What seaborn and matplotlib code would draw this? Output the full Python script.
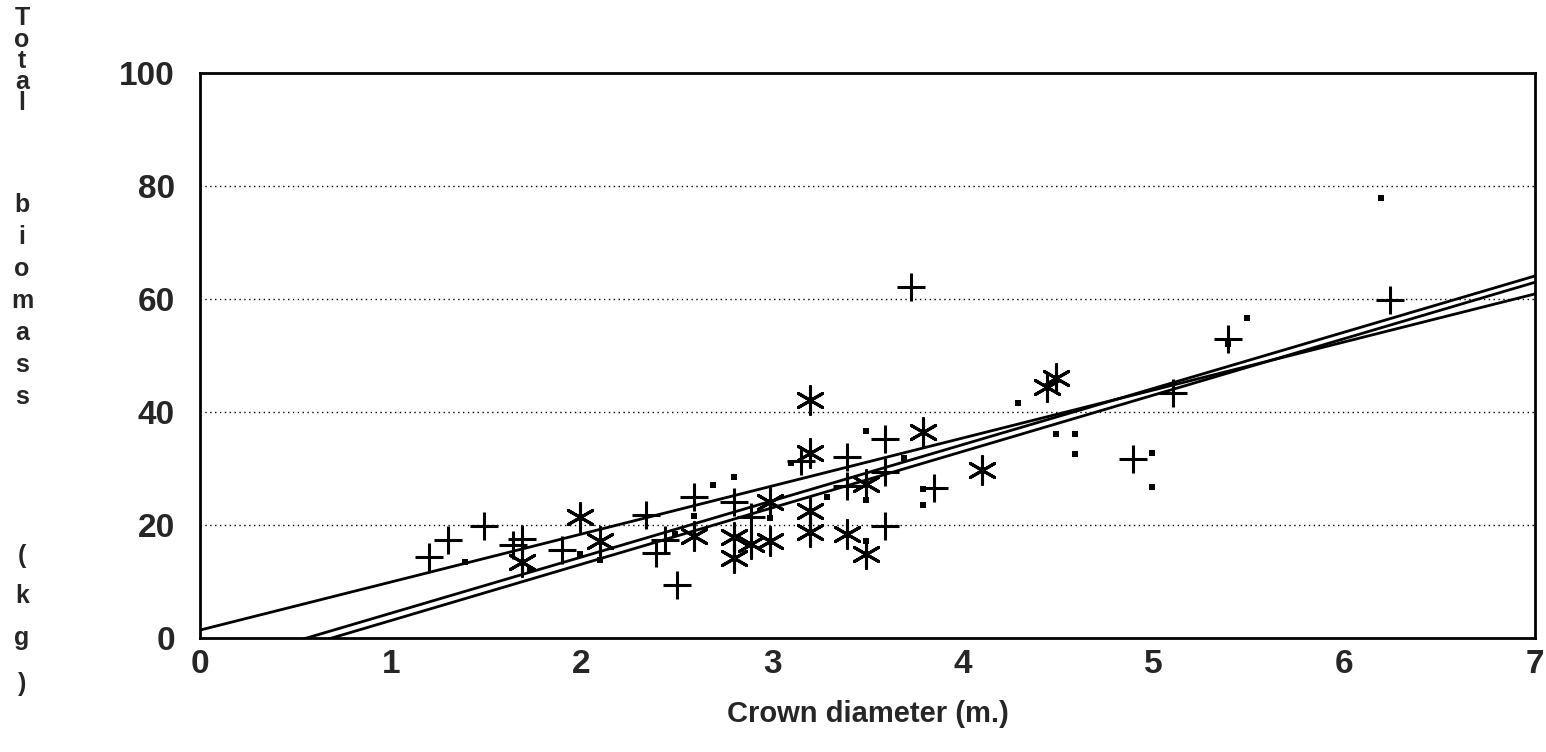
import matplotlib
matplotlib.use("Agg")
import matplotlib.pyplot as plt
import numpy as np
import pandas as pd
import seaborn as sns

# crown diameter (m.) / total biomass (kg), three sample groups
plus_x = [1.20, 1.30, 1.49, 1.64, 1.69, 1.90, 2.34, 2.39, 2.44, 2.50, 2.59, 2.80, 2.89,
          3.15, 3.39, 3.39, 3.59, 3.59, 3.59, 3.73, 3.85, 4.89, 5.10, 5.39, 6.24]
plus_y = [14.4, 17.3, 19.9, 16.5, 17.6, 15.5, 21.8, 15.0, 17.3, 9.3, 25.0, 24.1, 21.5,
          31.3, 32.1, 26.9, 35.3, 29.3, 19.9, 62.2, 26.5, 31.7, 43.3, 53.0, 59.9]
star_x = [1.69, 1.99, 2.10, 2.59, 2.80, 2.80, 2.89, 2.99, 2.99, 3.20, 3.20, 3.20, 3.20,
          3.39, 3.49, 3.49, 3.79, 4.10, 4.44, 4.49]
star_y = [13.5, 21.5, 17.2, 18.1, 17.8, 14.2, 16.7, 24.1, 17.1, 42.1, 32.8, 22.4, 18.8,
          18.4, 27.2, 14.9, 36.4, 29.7, 44.4, 46.1]
dot_x = [1.39, 1.73, 1.99, 2.10, 2.49, 2.59, 2.69, 2.80, 2.99, 3.10, 3.29, 3.49, 3.49,
         3.49, 3.69, 3.79, 3.79, 4.29, 4.49, 4.59, 4.59, 4.99, 4.99, 5.39, 5.49, 6.19]
dot_y = [13.4, 12.3, 14.9, 13.8, 18.4, 21.6, 27.0, 28.5, 21.2, 31.0, 25.0, 36.6, 24.5,
         17.2, 31.9, 26.4, 23.5, 41.6, 36.1, 36.1, 32.5, 32.7, 26.8, 52.0, 56.6, 77.8]

# fitted lines: intercept, slope
fit_a = [1.4, -5.57, -6.9]
fit_b = [8.5, 9.95, 9.98]

x_ticks = [0, 1, 2, 3, 4, 5, 6, 7]
y_ticks = [0, 20, 40, 60, 80, 100]

sns.set_style("white")
plt.rcParams['font.family'] = ['Liberation Sans', 'DejaVu Sans']

df = pd.DataFrame({
    "x": plus_x + star_x + dot_x,
    "y": plus_y + star_y + dot_y,
    "grp": ["plus"] * len(plus_x) + ["star"] * len(star_x) + ["dot"] * len(dot_x),
})

fig = plt.figure(figsize=(15.46, 7.52), dpi=100)
ax = fig.add_axes([200 / 1546, 1 - 638 / 752, 1335 / 1546, 565 / 752])

for g in y_ticks[1:-1]:
    ax.axhline(g, color="black", lw=1.0, ls=(0, (1, 2.5)), zorder=0)

xx = np.array([0.0, 7.0])
for a, b in zip(fit_a, fit_b):
    sns.lineplot(x=xx, y=a + b * xx, color="black", lw=2.0, ax=ax)

sns.scatterplot(data=df[df.grp == "plus"], x="x", y="y", marker="+", s=380,
                color="black", linewidth=2.2, ax=ax)
sns.scatterplot(data=df[df.grp == "star"], x="x", y="y", marker=(6, 2, 0), s=400,
                color="black", linewidth=2.2, ax=ax)
sns.scatterplot(data=df[df.grp == "dot"], x="x", y="y", marker="s", s=24,
                color="black", linewidth=0, ax=ax)

ax.set_xlim(0, 7)
ax.set_ylim(0, 100)
ax.set_xticks(x_ticks)
ax.set_yticks(y_ticks)
ax.tick_params(axis="x", direction="in", length=15, width=1.5, pad=8,
               labelsize=24)
ax.tick_params(axis="y", length=0, pad=18, labelsize=24)
for lab in ax.get_xticklabels() + ax.get_yticklabels():
    lab.set_fontweight("bold")
for s in ax.spines.values():
    s.set_color("black")
    s.set_linewidth(2.0)
ax.set_xlabel("Crown diameter (m.)", fontsize=21, fontweight="bold", labelpad=14)
ax.set_ylabel("")

# stacked vertical axis title, one letter per row
ylab = "Total biomass (kg)"
row_y = [18, 40, 61, 82, 103,
         205, 237, 269, 301, 333, 365, 397,
         556, 596, 638, 684]
letters = [c for c in ylab if c != " "]
for ch, yp in zip(letters, row_y):
    fig.text(22 / 1546, 1 - yp / 752, ch, fontsize=18, fontweight="bold",
             ha="center", va="center")

fig.savefig("out.png", dpi=100)
